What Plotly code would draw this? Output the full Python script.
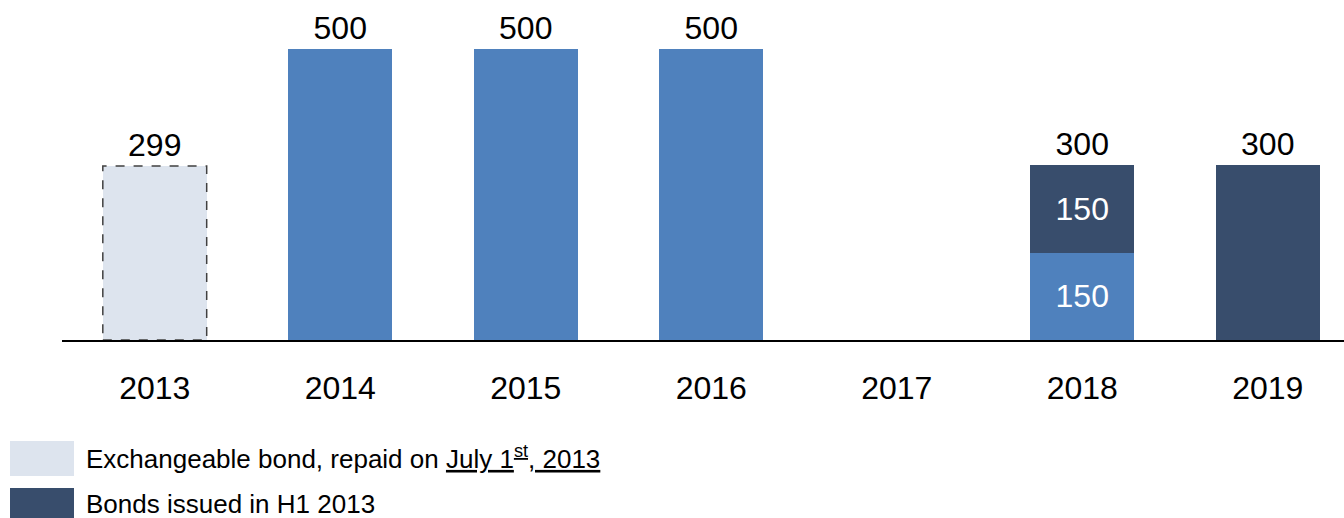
import plotly.graph_objects as go

years = ["2013", "2014", "2015", "2016", "2017", "2018", "2019"]
exchangeable = [299, 0, 0, 0, 0, 0, 0]
existing = [0, 500, 500, 500, 0, 150, 0]
issued_h1 = [0, 0, 0, 0, 0, 150, 300]
existing_labels = ["", "", "", "", "", "150", ""]
issued_labels = ["", "", "", "", "", "150", ""]
total_labels = ["299", "500", "500", "500", "", "300", "300"]
legend_names = ["Exchangeable bond, repaid on <u>July 1<sup>st</sup>, 2013</u>",
                "Bonds issued in H1 2013"]

C_LIGHT = "#DDE4EE"
C_MID = "#4F81BD"
C_DARK = "#384D6C"
FONT = "Liberation Sans, Arial, sans-serif"
FS = 32

W, H = 1344, 518
ML, MT, MB = 62, 0, 178
PLOT_W = W - ML
PLOT_H = H - MT - MB
BAR_W = 0.56
SLOT = 185.5
x_max = -0.5 + PLOT_W / SLOT

totals = [a + b + c for a, b, c in zip(exchangeable, existing, issued_h1)]
y_top = 500 * PLOT_H / 291.0


def nonzero(vals, labels=None):
    idx = [i for i, v in enumerate(vals) if v]
    xs = [years[i] for i in idx]
    ys = [vals[i] for i in idx]
    ts = [labels[i] if labels[i] else None for i in idx] if labels else None
    return xs, ys, ts


fig = go.Figure()
x, y, _ = nonzero(exchangeable)
fig.add_bar(x=x, y=y, marker_color=C_LIGHT, width=BAR_W,
            marker_line_width=0, hoverinfo="skip")
for vals, labs, col in [(existing, existing_labels, C_MID),
                        (issued_h1, issued_labels, C_DARK)]:
    x, y, t = nonzero(vals, labs)
    fig.add_bar(x=x, y=y, marker_color=col, width=BAR_W,
                marker_line_width=0, text=t, textposition="inside",
                insidetextanchor="middle",
                textfont=dict(color="white", size=FS, family=FONT),
                hoverinfo="skip")

x, y, t = nonzero(totals, total_labels)
fig.add_scatter(x=x, y=y, mode="markers+text", text=t,
                textposition="top center",
                marker=dict(size=2, opacity=0),
                textfont=dict(color="black", size=FS, family=FONT),
                hoverinfo="skip", cliponaxis=False)

# dashed border around exchangeable bar
for i, v in enumerate(exchangeable):
    if v > 0:
        fig.add_shape(type="rect", xref="x", yref="y",
                      x0=i - BAR_W / 2, x1=i + BAR_W / 2, y0=0, y1=v,
                      line=dict(color="#404040", width=1.5, dash="dash"),
                      fillcolor="rgba(0,0,0,0)")


def px_x(p):
    return (p - ML) / PLOT_W


def px_y(p):
    return (MT + PLOT_H - p) / PLOT_H


legend_rows = [(C_LIGHT, 441, 476, 457), (C_DARK, 488, 518, 504)]
for (col, y0, y1, ty), name in zip(legend_rows, legend_names):
    fig.add_shape(type="rect", xref="paper", yref="paper",
                  x0=px_x(10), x1=px_x(74), y0=px_y(y1), y1=px_y(y0),
                  line_width=0, fillcolor=col)
    fig.add_annotation(xref="paper", yref="paper", x=px_x(84),
                       y=px_y(ty), text=name, showarrow=False,
                       xanchor="left", yanchor="middle",
                       font=dict(size=26, color="black", family=FONT))

fig.update_layout(
    width=W, height=H, barmode="stack", showlegend=False,
    margin=dict(l=ML, r=0, t=MT, b=MB),
    plot_bgcolor="white", paper_bgcolor="white",
    font=dict(family=FONT),
    xaxis=dict(type="category", categoryorder="array", categoryarray=years,
               tickmode="array", tickvals=years, ticktext=years,
               range=[-0.5, x_max], showline=True,
               linecolor="black", linewidth=2, showgrid=False, ticks="",
               tickfont=dict(size=FS, color="black", family=FONT),
               ticklabelstandoff=19, fixedrange=True),
    yaxis=dict(range=[0, y_top], visible=False, fixedrange=True),
)

fig.write_html("out.html", config={"displayModeBar": False})
